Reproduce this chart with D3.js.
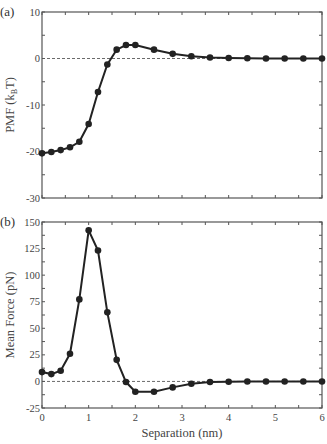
<!DOCTYPE html>
<html><head><meta charset="utf-8">
<script src="https://cdn.jsdelivr.net/npm/d3@7"></script>
<style>body{margin:0;background:#fff}svg{display:block}</style>
</head><body>
<svg id="c" width="327" height="444" font-family="'Liberation Serif', 'Times New Roman', 'DejaVu Serif', serif"></svg>
<script>
const separation = [0,0.2,0.4,0.6,0.8,1.0,1.2,1.4,1.6,1.8,2.0,2.4,2.8,3.2,3.6,4.0,4.4,4.8,5.2,5.6,6.0];
const pmf = [-20.4,-20.1,-19.7,-19.1,-17.9,-14.1,-7.2,-1.3,1.9,2.9,2.9,1.9,1.0,0.5,0.2,0.1,0.05,0,0,0,0];
const meanForce = [8.8,6.9,10,26,77.2,142.2,123.2,65,20.3,-0.6,-9.7,-9.7,-5.6,-2.2,-0.6,-0.3,0,0,0,0,0];
const xTicks = [0,1,2,3,4,5,6];
const pmfTicks = [10,0,-10,-20,-30];
const forceTicks = [150,125,100,75,50,25,0,-25];

const svg = d3.select("#c");
const L = 42, R = 322;
const axisCol = "#555";
const textCol = "#444";
const x = d3.scaleLinear().domain([0,6]).range([L,R]);

function panel(top, bottom, domain, ticks, minorStep, values, ylabel, letter, showX){
  const y = d3.scaleLinear().domain(domain).range([bottom, top]);
  const g = svg.append("g");
  g.append("line").attr("x1",L).attr("x2",R).attr("y1",y(0)).attr("y2",y(0))
    .attr("stroke","#444").attr("stroke-width",0.8).attr("stroke-dasharray","3,2");
  g.append("rect").attr("x",L).attr("y",top).attr("width",R-L).attr("height",bottom-top)
    .attr("fill","none").attr("stroke",axisCol).attr("stroke-width",1.2);
  const tl = 3;
  const xt = d3.range(0,6.01,0.5);
  xt.forEach(v=>{
    g.append("line").attr("x1",x(v)).attr("x2",x(v)).attr("y1",bottom).attr("y2",bottom-tl).attr("stroke",axisCol);
    g.append("line").attr("x1",x(v)).attr("x2",x(v)).attr("y1",top).attr("y2",top+tl).attr("stroke",axisCol);
  });
  const yt = d3.range(domain[0], domain[1]+0.01, minorStep);
  yt.forEach(v=>{
    g.append("line").attr("x1",L).attr("x2",L+tl).attr("y1",y(v)).attr("y2",y(v)).attr("stroke",axisCol);
    g.append("line").attr("x1",R).attr("x2",R-tl).attr("y1",y(v)).attr("y2",y(v)).attr("stroke",axisCol);
  });
  ticks.forEach(v=>{
    g.append("text").attr("x",L-2).attr("y",y(v)+3.5).attr("text-anchor","end")
      .attr("font-size",10.5).attr("fill",textCol).text(v);
  });
  if(showX){
    xTicks.forEach(v=>{
      g.append("text").attr("x",x(v)).attr("y",bottom+13).attr("text-anchor","middle")
        .attr("font-size",10.5).attr("fill",textCol).text(v);
    });
  }
  const line = d3.line().x((d,i)=>x(separation[i])).y(d=>y(d));
  g.append("path").datum(values).attr("d",line).attr("fill","none")
    .attr("stroke","#222").attr("stroke-width",2);
  g.selectAll("circle.p").data(values).enter().append("circle")
    .attr("cx",(d,i)=>x(separation[i])).attr("cy",d=>y(d)).attr("r",3.3).attr("fill","#222");
  const yl = g.append("text").attr("transform",`translate(14,${(top+bottom)/2}) rotate(-90)`)
    .attr("text-anchor","middle").attr("font-size",12.5).attr("fill",textCol);
  if (typeof ylabel === "string") yl.text(ylabel);
  else ylabel(yl);
  g.append("text").attr("x",0).attr("y",top+4).attr("font-size",13).attr("fill","#333").text(letter);
  return y;
}

panel(12, 198, [-30,10], pmfTicks, 5, pmf, t=>{
  t.append("tspan").text("PMF (k");
  t.append("tspan").attr("font-size",8).attr("dy",3).text("B");
  t.append("tspan").attr("dy",-3).text("T)");
}, "(a)", false);
panel(222, 408, [-25,150], forceTicks, 12.5, meanForce, "Mean Force (pN)", "(b)", true);

svg.append("text").attr("x",(L+R)/2).attr("y",437).attr("text-anchor","middle")
  .attr("font-size",12.5).attr("fill",textCol).text("Separation (nm)");
</script>
</body></html>
